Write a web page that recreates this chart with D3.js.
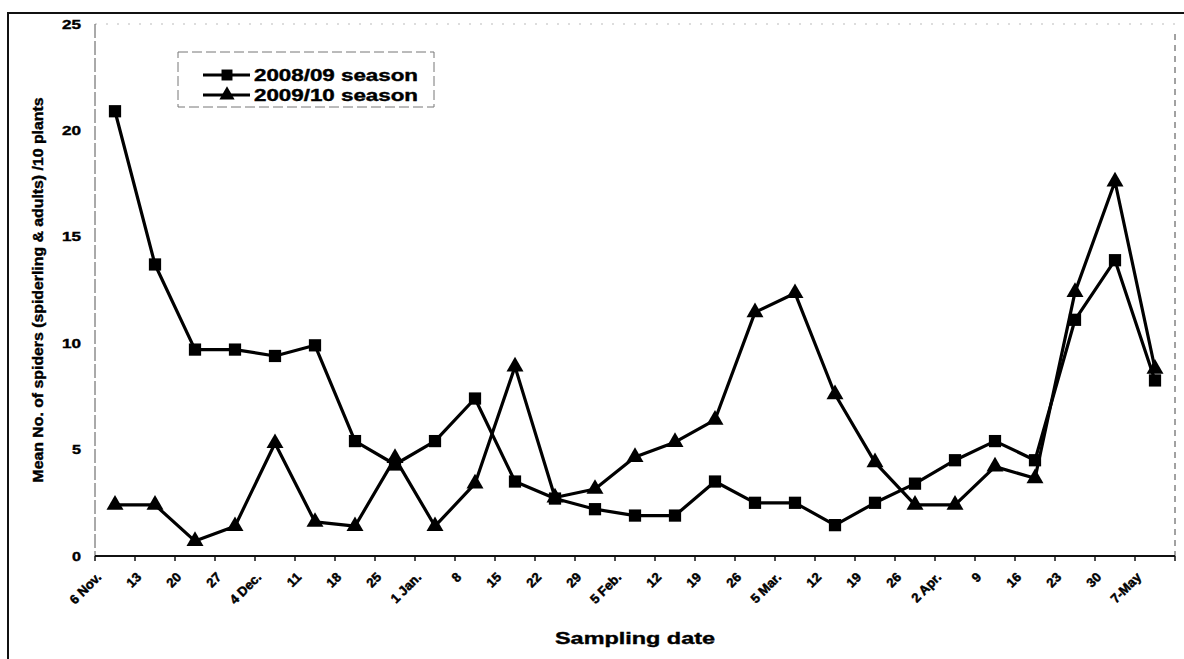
<!DOCTYPE html>
<html>
<head>
<meta charset="utf-8">
<script src="https://cdn.jsdelivr.net/npm/d3@7"></script>
<style>
  body { margin: 0; background: #fff; }
  svg { display: block; font-family: "Liberation Sans", Arial, sans-serif; font-weight: bold; }
</style>
</head>
<body>
<svg id="chart" width="1184" height="659"></svg>
<script>
// sampling dates (category axis)
var dates = ["6 Nov.", "13", "20", "27", "4 Dec.", "11", "18", "25", "1 Jan.", "8", "15", "22", "29",
             "5 Feb.", "12", "19", "26", "5 Mar.", "12", "19", "26", "2 Apr.", "9", "16", "23", "30", "7-May"];

// mean no. of spiders per 10 plants
var season0809 = [20.9, 13.7, 9.7, 9.7, 9.4, 9.9, 5.4, 4.3, 5.4, 7.4, 3.5, 2.7, 2.2, 1.9,
                  1.9, 3.5, 2.5, 2.5, 1.45, 2.5, 3.4, 4.5, 5.4, 4.5, 11.1, 13.9, 8.25];
var season0910 = [2.4, 2.4, 0.7, 1.4, 5.3, 1.6, 1.4, 4.6, 1.4, 3.4, 8.9, 2.75, 3.15, 4.65,
                  5.35, 6.4, 11.45, 12.35, 7.6, 4.4, 2.4, 2.4, 4.2, 3.65, 12.4, 17.6, 8.8];

var seriesNames = ["2008/09 season", "2009/10 season"];
var yTicks = [0, 5, 10, 15, 20, 25];

var chart = d3.select("#chart");
var plot = {left: 95, right: 1175, top: 24, bottom: 556};

var x = d3.scaleBand()
    .domain(d3.range(dates.length))
    .range([plot.left, plot.right]);

var y = d3.scaleLinear()
    .domain([0, 25])
    .range([plot.bottom, plot.top]);

var cx = function(i) { return x(i) + x.bandwidth() / 2; };

// outer frame (scan border, left and top only)
chart.append("path")
    .attr("d", "M8,659V13H1184")
    .attr("fill", "none")
    .attr("stroke", "#111")
    .attr("stroke-width", 2);

// faint plot area border
chart.append("line")
    .attr("x1", plot.left).attr("x2", plot.right)
    .attr("y1", plot.top).attr("y2", plot.top)
    .attr("stroke", "#bbb").attr("stroke-width", 1)
    .attr("stroke-dasharray", "2,9");
chart.append("line")
    .attr("x1", plot.right).attr("x2", plot.right)
    .attr("y1", plot.top + 10).attr("y2", plot.bottom)
    .attr("stroke", "#444").attr("stroke-width", 1)
    .attr("stroke-dasharray", "6,5");

// y axis
chart.append("line")
    .attr("x1", plot.left).attr("x2", plot.left)
    .attr("y1", plot.top).attr("y2", plot.bottom)
    .attr("stroke", "#555").attr("stroke-width", 1)
    .attr("stroke-dasharray", "14,3");

chart.append("g").selectAll("text")
    .data(yTicks)
    .enter().append("text")
    .attr("x", 81)
    .attr("y", function(d) { return y(d); })
    .attr("dy", "0.35em")
    .attr("text-anchor", "end")
    .attr("font-size", 13)
    .attr("stroke", "#000").attr("stroke-width", 0.4)
    .attr("textLength", function(d) { return d < 10 ? 9 : 19; })
    .attr("lengthAdjust", "spacingAndGlyphs")
    .text(function(d) { return d; });

// x axis
chart.append("line")
    .attr("x1", plot.left).attr("x2", plot.right)
    .attr("y1", plot.bottom).attr("y2", plot.bottom)
    .attr("stroke", "#111").attr("stroke-width", 2);

chart.append("g").selectAll("line")
    .data(d3.range(dates.length + 1))
    .enter().append("line")
    .attr("x1", function(i) { return plot.left + i * x.bandwidth(); })
    .attr("x2", function(i) { return plot.left + i * x.bandwidth(); })
    .attr("y1", plot.bottom).attr("y2", plot.bottom + 5)
    .attr("stroke", "#111").attr("stroke-width", 1.5);

chart.append("g").selectAll("text")
    .data(dates)
    .enter().append("text")
    .attr("transform", function(d, i) { return "translate(" + (cx(i) - 13) + "," + 578 + ") rotate(-45)"; })
    .attr("text-anchor", "end")
    .attr("font-size", 13)
    .attr("stroke", "#000").attr("stroke-width", 0.5)
    .text(function(d) { return d; });

// axis titles
chart.append("text")
    .attr("x", 635).attr("y", 644)
    .attr("text-anchor", "middle")
    .attr("font-size", 17)
    .attr("stroke", "#000").attr("stroke-width", 0.4)
    .attr("textLength", 160)
    .attr("lengthAdjust", "spacingAndGlyphs")
    .text("Sampling date");

chart.append("text")
    .attr("transform", "translate(43,290) rotate(-90)")
    .attr("text-anchor", "middle")
    .attr("font-size", 14)
    .attr("stroke", "#000").attr("stroke-width", 0.4)
    .attr("textLength", 385)
    .attr("lengthAdjust", "spacingAndGlyphs")
    .text("Mean No. of spiders (spiderling & adults) /10 plants");

// series
var line = d3.line()
    .x(function(d, i) { return cx(i); })
    .y(function(d) { return y(d); });

var series = [
    {name: seriesNames[0], values: season0809, symbol: d3.symbolSquare, size: 150},
    {name: seriesNames[1], values: season0910, symbol: d3.symbolTriangle, size: 125}
];

series.forEach(function(s) {
    chart.append("path")
        .datum(s.values)
        .attr("d", line)
        .attr("fill", "none")
        .attr("stroke", "#000")
        .attr("stroke-width", 3.2)
        .attr("stroke-linejoin", "round");

    chart.append("g").selectAll("path")
        .data(s.values)
        .enter().append("path")
        .attr("transform", function(d, i) { return "translate(" + cx(i) + "," + y(d) + ")"; })
        .attr("d", d3.symbol(s.symbol, s.size))
        .attr("fill", "#000");
});

// legend
var legend = chart.append("g");
legend.append("rect")
    .attr("x", 178).attr("y", 52)
    .attr("width", 256).attr("height", 55)
    .attr("fill", "#fff")
    .attr("stroke", "#777").attr("stroke-width", 1)
    .attr("stroke-dasharray", "10,4");

series.forEach(function(s, k) {
    var ly = 75 + k * 20;
    legend.append("line")
        .attr("x1", 203).attr("x2", 250)
        .attr("y1", ly).attr("y2", ly)
        .attr("stroke", "#000").attr("stroke-width", 2.8);
    legend.append("path")
        .attr("transform", "translate(227," + ly + ")")
        .attr("d", d3.symbol(s.symbol, s.size * 0.8))
        .attr("fill", "#000");
    legend.append("text")
        .attr("x", 254).attr("y", ly)
        .attr("dy", "0.36em")
        .attr("font-size", 16)
        .attr("stroke", "#000").attr("stroke-width", 0.4)
        .attr("textLength", 164)
        .attr("lengthAdjust", "spacingAndGlyphs")
        .text(s.name);
});
</script>
</body>
</html>
